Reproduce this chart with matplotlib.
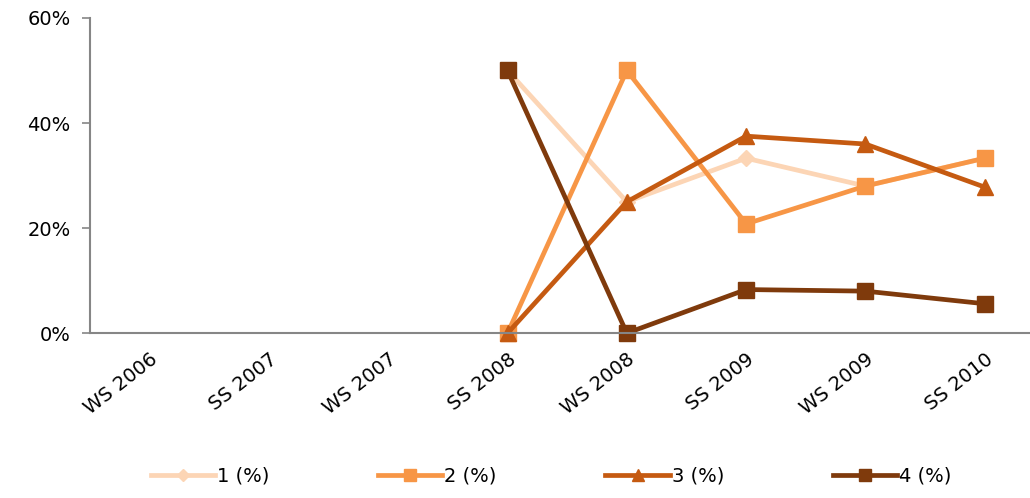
import numpy as np
import matplotlib.pyplot as plt
from matplotlib.ticker import PercentFormatter

semesters = ['WS 2006', 'SS 2007', 'WS 2007', 'SS 2008',
             'WS 2008', 'SS 2009', 'WS 2009', 'SS 2010']
nan = np.nan
s1 = [nan, nan, nan, 50.0, 25.0, 33.3, 28.0, 33.3]
s2 = [nan, nan, nan, 0.0, 50.0, 20.8, 28.0, 33.3]
s3 = [nan, nan, nan, 0.0, 25.0, 37.5, 36.0, 27.8]
s4 = [nan, nan, nan, 50.0, 0.0, 8.3, 8.0, 5.6]
labels = ['1 (%)', '2 (%)', '3 (%)', '4 (%)']

colors = ['#FCD5B5', '#F79646', '#C55A11', '#7F3A0C']
markers = ['D', 's', '^', 's']
msizes = [8, 12, 12, 12]

fig = plt.figure(figsize=(10.3, 4.98), dpi=100)
ax = fig.add_axes([0.0874, 0.331, 0.9126, 0.633])

x = np.arange(len(semesters))
for ys, c, m, ms, lab in zip([s1, s2, s3, s4], colors, markers, msizes, labels):
    ax.plot(x, ys, color=c, lw=3.4, marker=m, markersize=ms, label=lab,
            solid_joinstyle='round', clip_on=False)

ax.set_ylim(0, 60)
ax.set_yticks([0, 20, 40, 60])
ax.yaxis.set_major_formatter(PercentFormatter(decimals=0))
ax.set_xlim(-0.5, 7.38)
ax.set_xticks(x)
ax.set_xticklabels(semesters, rotation=38, ha='right', rotation_mode='anchor')

for side in ['top', 'right']:
    ax.spines[side].set_visible(False)
for side in ['left', 'bottom']:
    ax.spines[side].set_color('#868686')
    ax.spines[side].set_linewidth(1.5)
ax.tick_params(axis='y', length=6, width=1.2, color='#868686', labelsize=14, pad=8)
ax.tick_params(axis='x', length=0, labelsize=14, pad=12)

fig.legend(loc='lower center', bbox_to_anchor=(0.535, -0.01), ncol=4, frameon=False,
           fontsize=14, handlelength=3.3, columnspacing=5.6, handletextpad=0.1,
           markerscale=0.75)

plt.savefig('out.png', dpi=100)
